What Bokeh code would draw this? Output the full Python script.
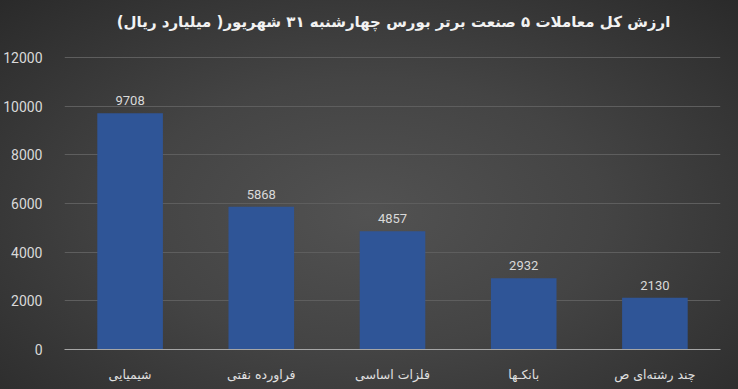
from bokeh.plotting import figure
from bokeh.models import ColumnDataSource, FactorRange, Range1d, FixedTicker, LabelSet, Label
from bokeh.core.properties import value
from bokeh.embed import file_html
from bokeh.resources import INLINE

categories = ["شیمیایی", "فراورده نفتی", "فلزات اساسی", "بانکـها", "چند رشته‌ای ص"]
values = [9708, 5868, 4857, 2932, 2130]
y_ticks = [0, 2000, 4000, 6000, 8000, 10000, 12000]
title_text = "ارزش کل معاملات ۵ صنعت برتر بورس چهارشنبه ۳۱ شهریور( میلیارد ریال)"

W, H = 738, 389
BL, BR, BB = 62, 18, 40
GRID_TOP_PX = 57          # pixel row of the 12000 gridline
TITLE_PX = 21             # pixel row of the title centre

frame_w = W - BL - BR
frame_h = H - BB          # frame runs to the top edge (transparent), axis max at 12000 row
y_end = y_ticks[-1] * frame_h / (frame_h - GRID_TOP_PX)

src = ColumnDataSource(dict(cat=categories, val=values, lbl=[str(v) for v in values]))

p = figure(width=W, height=H, x_range=FactorRange(*categories, range_padding=0),
           y_range=Range1d(0, y_end), output_backend="svg", toolbar_location=None,
           min_border_left=BL, min_border_right=BR, min_border_top=0, min_border_bottom=BB)
p.x_range.factor_padding = 0
p.styles = {"background": "radial-gradient(ellipse at 50% 55%, #525252 0%, #444444 45%, #2a2a2a 100%)"}
p.background_fill_alpha = 0
p.border_fill_alpha = 0
p.outline_line_color = None

title = Label(x=frame_w / 2, y=frame_h - TITLE_PX, x_units="screen", y_units="screen",
              text=title_text, text_align="center", text_baseline="middle",
              text_color="#f2f2f2", text_font="DejaVu Sans", text_font_size="15px",
              text_font_style="bold")
p.add_layout(title)

p.vbar(x="cat", top="val", width=0.5, source=src, fill_color="#2f5597", line_color=None)

labels = LabelSet(x="cat", y="val", text="lbl", source=src, text_align="center",
                  y_offset=8, text_color="#d9d9d9", text_font_size="13px",
                  text_font=value("Roboto"))
p.add_layout(labels)

p.yaxis.ticker = FixedTicker(ticks=y_ticks)
p.yaxis.axis_line_color = None
p.yaxis.major_tick_line_color = None
p.yaxis.minor_tick_line_color = None
p.yaxis.major_label_text_color = "#d9d9d9"
p.yaxis.major_label_text_font = "Roboto"
p.yaxis.major_label_text_font_size = "14px"
p.yaxis.major_label_standoff = 16

p.xaxis.axis_line_color = "#a6a6a6"
p.xaxis.major_tick_line_color = None
p.xaxis.minor_tick_line_color = None
p.xaxis.major_label_text_color = "#e0e0e0"
p.xaxis.major_label_text_font = "DejaVu Sans"
p.xaxis.major_label_text_font_size = "12.5px"
p.xaxis.major_label_standoff = 11

p.xgrid.grid_line_color = None
p.ygrid.grid_line_color = "#5e5e5e"
p.ygrid.grid_line_width = 1

open("out.html", "w").write(file_html(p, INLINE))
